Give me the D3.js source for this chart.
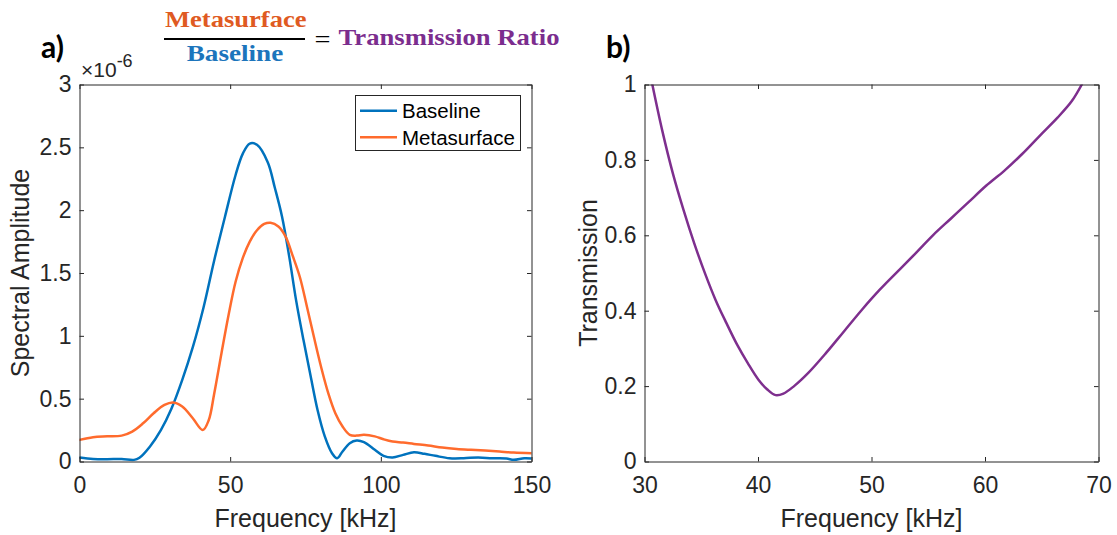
<!DOCTYPE html>
<html>
<head>
<meta charset="utf-8">
<script src="https://cdn.jsdelivr.net/npm/d3@7"></script>
<style>
  html, body { margin: 0; padding: 0; background: #ffffff; }
  svg { display: block; }
</style>
</head>
<body>
<svg id="chart" width="1117" height="535"></svg>
<script>
// ---------- DATA ----------
// Panel a) spectral amplitude (units of 1e-6) vs frequency [kHz]
const baselineFreq = [0, 4.5, 9.2, 14, 18.1, 19.9, 23.4, 27, 30.5, 34.1, 37.6, 41.2, 44.7, 48.3, 51.8, 54.2, 56.5, 58.9, 62.5, 64.8, 67.2, 69.6, 71.9, 74.3, 76.7, 79, 81.4, 83.8, 85.5, 87.3, 89.7, 92, 94.4, 98, 100.9, 103.9, 107.4, 111, 114.5, 118.1, 122.8, 127.5, 132.3, 137, 141.7, 144.1, 147.6, 150];
const baselineAmp  = [0.032, 0.02, 0.018, 0.02, 0.013, 0.03, 0.12, 0.25, 0.42, 0.65, 0.91, 1.23, 1.6, 1.95, 2.28, 2.45, 2.53, 2.52, 2.38, 2.18, 1.95, 1.63, 1.28, 0.97, 0.68, 0.41, 0.2, 0.066, 0.026, 0.08, 0.146, 0.167, 0.154, 0.093, 0.045, 0.032, 0.053, 0.074, 0.061, 0.045, 0.026, 0.026, 0.032, 0.026, 0.024, 0.013, 0.026, 0.024];

const metaFreq = [0, 4.5, 9.2, 14, 17.5, 21.1, 24.6, 28.2, 31.1, 34.1, 37.6, 40.9, 42.9, 44.7, 47.1, 49.5, 51.8, 54.2, 56.5, 58.9, 61.3, 63.4, 66, 68.4, 70.7, 73.1, 75.5, 77.8, 80.2, 82.6, 84.9, 87.3, 89.7, 92, 94.4, 98, 100.9, 103.9, 107.4, 111, 115.7, 120.4, 125.2, 129.9, 134.6, 139.4, 144.1, 150];
const metaAmp  = [0.172, 0.193, 0.2, 0.206, 0.238, 0.304, 0.384, 0.45, 0.469, 0.437, 0.344, 0.25, 0.33, 0.54, 0.86, 1.17, 1.43, 1.62, 1.75, 1.84, 1.89, 1.9, 1.87, 1.79, 1.64, 1.47, 1.23, 0.99, 0.75, 0.54, 0.384, 0.278, 0.212, 0.206, 0.212, 0.2, 0.177, 0.159, 0.151, 0.14, 0.127, 0.111, 0.1, 0.093, 0.087, 0.079, 0.071, 0.066];

// Panel b) transmission ratio vs frequency [kHz]
const transFreq = [30.69, 31.57, 32.51, 33.45, 34.39, 35.33, 36.27, 37.22, 38.16, 39.1, 40.04, 40.82, 41.55, 42.24, 43.18, 44.43, 46, 47.57, 49.14, 50.71, 52.27, 53.84, 55.41, 56.98, 58.55, 60.12, 61.69, 63.25, 64.82, 66.39, 67.65, 68.53];
const transVal  = [1.0, 0.877, 0.763, 0.666, 0.578, 0.499, 0.428, 0.367, 0.31, 0.261, 0.217, 0.191, 0.176, 0.18, 0.2, 0.235, 0.288, 0.345, 0.402, 0.455, 0.503, 0.551, 0.6, 0.644, 0.688, 0.732, 0.771, 0.815, 0.864, 0.912, 0.956, 1.0];

// Ticks
const aXTicks = [0, 50, 100, 150];
const aXLabels = ["0", "50", "100", "150"];
const aYTicks = [0, 0.5, 1, 1.5, 2, 2.5, 3];
const aYLabels = ["0", "0.5", "1", "1.5", "2", "2.5", "3"];
const bXTicks = [30, 40, 50, 60, 70];
const bXLabels = ["30", "40", "50", "60", "70"];
const bYTicks = [0, 0.2, 0.4, 0.6, 0.8, 1];
const bYLabels = ["0", "0.2", "0.4", "0.6", "0.8", "1"];

const seriesNames = ["Baseline", "Metasurface"];

// ---------- STYLE ----------
const AX = "#262626";
const BLUE = "#0072BD";
const ORANGE = "#FF6B2D";
const PURPLE = "#7E2F8E";
const SANS = "'Liberation Sans', Arial, Helvetica, sans-serif";
const TICKFS = 23;
const LABFS = 25;
const TL = 4.5;

const svg = d3.select("#chart");

function panel(cfg) {
  const g = svg.append("g");
  const x = d3.scaleLinear().domain(cfg.xDomain).range([cfg.x0, cfg.x1]);
  const y = d3.scaleLinear().domain(cfg.yDomain).range([cfg.y1, cfg.y0]);

  const clipId = "clip" + cfg.id;
  svg.append("clipPath").attr("id", clipId)
    .append("rect").attr("x", cfg.x0).attr("y", cfg.y0)
    .attr("width", cfg.x1 - cfg.x0).attr("height", cfg.y1 - cfg.y0);

  const xb = d3.axisBottom(x).tickValues(cfg.xTicks).tickFormat((d, i) => cfg.xLabels[i])
    .tickSizeInner(-TL).tickSizeOuter(0).tickPadding(15);
  const yl = d3.axisLeft(y).tickValues(cfg.yTicks).tickFormat((d, i) => cfg.yLabels[i])
    .tickSizeInner(-TL).tickSizeOuter(0).tickPadding(8);
  const xt = d3.axisTop(x).tickValues(cfg.xTicks).tickFormat("").tickSizeInner(-TL).tickSizeOuter(0);
  const yr = d3.axisRight(y).tickValues(cfg.yTicks).tickFormat("").tickSizeInner(-TL).tickSizeOuter(0);

  const lines = g.append("g").attr("clip-path", `url(#${clipId})`);
  cfg.series.forEach(s => {
    const pts = s.xs.map((v, i) => [v, s.ys[i]]);
    lines.append("path").datum(pts)
      .attr("fill", "none").attr("stroke", s.color).attr("stroke-width", 2.5)
      .attr("stroke-linejoin", "round").attr("stroke-linecap", "round")
      .attr("d", d3.line().x(d => x(d[0])).y(d => y(d[1])).curve(d3.curveCatmullRom.alpha(0.5)));
  });

  const axes = [
    g.append("g").attr("transform", `translate(0,${cfg.y1})`).call(xb),
    g.append("g").attr("transform", `translate(${cfg.x0},0)`).call(yl),
    g.append("g").attr("transform", `translate(0,${cfg.y0})`).call(xt),
    g.append("g").attr("transform", `translate(${cfg.x1},0)`).call(yr)
  ];
  axes.forEach(a => {
    a.select(".domain").attr("stroke", AX).attr("stroke-width", 1);
    a.selectAll(".tick line").attr("stroke", AX).attr("stroke-width", 1);
    a.selectAll(".tick text").attr("fill", AX).style("font-family", SANS).style("font-size", TICKFS + "px");
    a.attr("font-family", null).attr("font-size", null);
  });

  g.append("text").attr("x", (cfg.x0 + cfg.x1) / 2).attr("y", 527)
    .attr("text-anchor", "middle").attr("fill", AX)
    .style("font-family", SANS).style("font-size", LABFS + "px").text(cfg.xLabel);
  g.append("text").attr("transform", `translate(${cfg.yLabelX},${(cfg.y0 + cfg.y1) / 2}) rotate(-90)`)
    .attr("text-anchor", "middle").attr("fill", AX)
    .style("font-family", SANS).style("font-size", LABFS + "px").text(cfg.yLabel);

  svg.append("text").attr("x", cfg.letterX).attr("y", 58)
    .attr("fill", "#000").style("font-family", "Lato, 'Open Sans', sans-serif")
    .style("font-weight", "bold").style("font-size", "30px").text(cfg.letter);
  return { g, x, y };
}

panel({
  id: "a", x0: 79.5, x1: 531.5, y0: 84.5, y1: 461.5,
  xDomain: [0, 150], yDomain: [0, 3],
  xTicks: aXTicks, xLabels: aXLabels, yTicks: aYTicks, yLabels: aYLabels,
  xLabel: "Frequency [kHz]", yLabel: "Spectral Amplitude", yLabelX: 29,
  letter: "a)", letterX: 41,
  series: [
    { xs: baselineFreq, ys: baselineAmp, color: BLUE },
    { xs: metaFreq, ys: metaAmp, color: ORANGE }
  ]
});

panel({
  id: "b", x0: 644.5, x1: 1098.5, y0: 84.5, y1: 461.5,
  xDomain: [30, 70], yDomain: [0, 1],
  xTicks: bXTicks, xLabels: bXLabels, yTicks: bYTicks, yLabels: bYLabels,
  xLabel: "Frequency [kHz]", yLabel: "Transmission", yLabelX: 597,
  letter: "b)", letterX: 606,
  series: [{ xs: transFreq, ys: transVal, color: PURPLE }]
});

// exponent label
const ex = svg.append("text").attr("x", 81).attr("y", 77).attr("fill", AX)
  .style("font-family", SANS).style("font-size", "21px");
ex.append("tspan").text("\u00D710");
ex.append("tspan").attr("dy", -10).style("font-size", "18px").text("-6");

// legend
const leg = svg.append("g");
leg.append("rect").attr("x", 355.5).attr("y", 95.5).attr("width", 165).attr("height", 55)
  .attr("fill", "#fff").attr("stroke", AX).attr("stroke-width", 1);
const legColors = [BLUE, ORANGE];
const legY = [110.7, 137.3];
seriesNames.forEach((n, i) => {
  leg.append("line").attr("x1", 360).attr("x2", 397).attr("y1", legY[i]).attr("y2", legY[i])
    .attr("stroke", legColors[i]).attr("stroke-width", 2.5);
  leg.append("text").attr("x", 402).attr("y", legY[i] + 7.3).attr("fill", "#000")
    .style("font-family", SANS).style("font-size", "20.5px").text(n);
});

// formula header
const SERIF = "'Liberation Serif', 'Times New Roman', serif";
svg.append("text").attr("x", 165).attr("y", 27.3).attr("fill", "#DF5A22")
  .style("font-family", SERIF).style("font-weight", "bold").style("font-size", "23.5px")
  .attr("textLength", 141.5).attr("lengthAdjust", "spacingAndGlyphs").text("Metasurface");
svg.append("line").attr("x1", 164).attr("x2", 305).attr("y1", 39).attr("y2", 39)
  .attr("stroke", "#000").attr("stroke-width", 2);
svg.append("text").attr("x", 186.7).attr("y", 60.7).attr("fill", "#1C75BC")
  .style("font-family", SERIF).style("font-weight", "bold").style("font-size", "23.5px")
  .attr("textLength", 96.6).attr("lengthAdjust", "spacingAndGlyphs").text("Baseline");
svg.append("text").attr("x", 314.6).attr("y", 47.5).attr("fill", "#000")
  .style("font-family", SERIF).style("font-size", "26px")
  .attr("textLength", 16).attr("lengthAdjust", "spacingAndGlyphs").text("=");
svg.append("text").attr("x", 338.5).attr("y", 45).attr("fill", "#7B2D8E")
  .style("font-family", SERIF).style("font-weight", "bold").style("font-size", "23.5px")
  .attr("textLength", 221).attr("lengthAdjust", "spacingAndGlyphs").text("Transmission Ratio");
</script>
</body>
</html>
